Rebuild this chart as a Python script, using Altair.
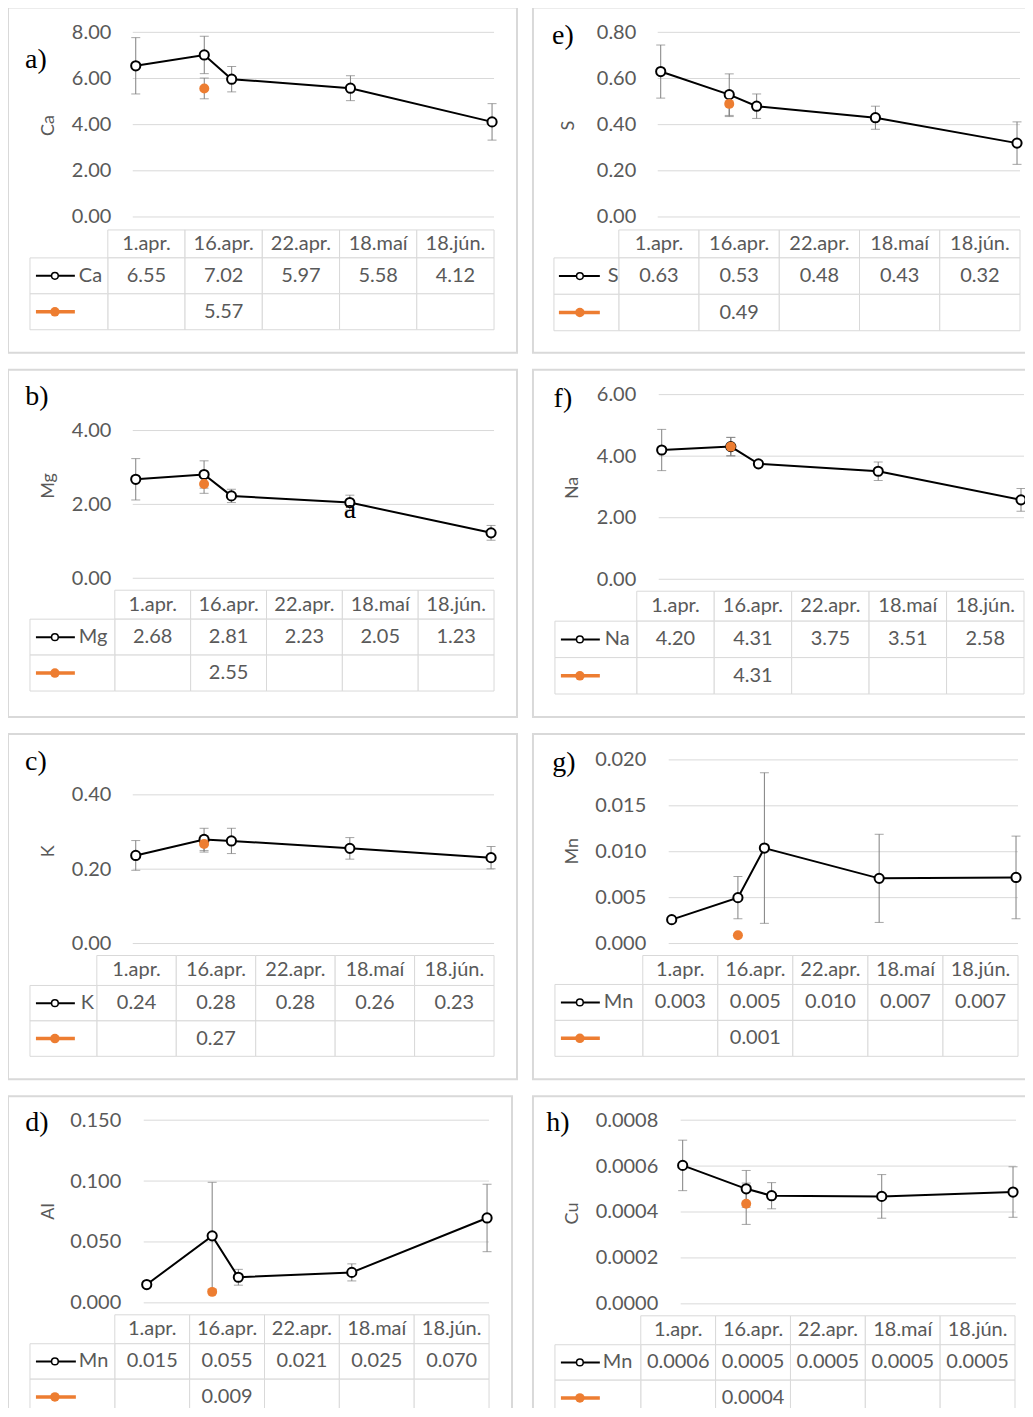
import altair as alt
import pandas as pd

# ---------------- data ----------------
dates = ["2020-04-01", "2020-04-16", "2020-04-22", "2020-05-18", "2020-06-18"]
date_labels = ["1.apr.", "16.apr.", "22.apr.", "18.maí", "18.jún."]

ca = [6.55, 7.02, 5.97, 5.58, 4.12]
ca_err = [1.22, 0.81, 0.55, 0.54, 0.79]
ca_extra = 5.57
ca_extra_err = 0.45
ca_ticks = [0, 2, 4, 6, 8]

s = [0.63, 0.53, 0.48, 0.43, 0.32]
s_err = [0.115, 0.09, 0.053, 0.05, 0.092]
s_extra = 0.49
s_extra_err = 0.055
s_ticks = [0, 0.2, 0.4, 0.6, 0.8]

mg = [2.68, 2.81, 2.23, 2.05, 1.23]
mg_err = [0.56, 0.37, 0.18, 0.2, 0.2]
mg_extra = 2.55
mg_extra_err = 0.25
mg_ticks = [0, 2, 4]

na = [4.20, 4.31, 3.75, 3.51, 2.58]
na_err = [0.67, 0.3, 0.1, 0.3, 0.37]
na_extra = 4.31
na_extra_err = 0.3
na_ticks = [0, 2, 4, 6]

k = [0.237, 0.280, 0.276, 0.256, 0.231]
k_err = [0.04, 0.03, 0.034, 0.029, 0.03]
k_extra = 0.268
k_extra_err = 0.022
k_ticks = [0, 0.2, 0.4]

mn = [0.0026, 0.0050, 0.0104, 0.0071, 0.0072]
mn_err = [0.0, 0.0023, 0.0082, 0.0048, 0.0045]
mn_extra = 0.0009
mn_extra_err = 0.0
mn_ticks = [0, 0.005, 0.01, 0.015, 0.02]

al = [0.015, 0.055, 0.021, 0.025, 0.0697]
al_err = [0.0, 0.044, 0.0065, 0.007, 0.0277]
al_extra = 0.009
al_extra_err = 0.0
al_ticks = [0, 0.05, 0.1, 0.15]

cu = [0.000603, 0.000501, 0.000471, 0.000468, 0.000487]
cu_err = [0.00011, 0.00008, 0.000057, 0.000095, 0.00011]
cu_extra = 0.000436
cu_extra_err = 0.00009
cu_ticks = [0, 0.0002, 0.0004, 0.0006, 0.0008]

# ---------------- styles ----------------
FONT = "Lato"
SERIF = "Liberation Serif"
TXT = "#595959"
GRID = "#d9d9d9"
ERR = "#7f7f7f"
ORANGE = "#ED7D31"
FS = 20

# per-panel layout (pixels relative to the panel box)
LAY = {
    "a": dict(lx=28, ly=53, y0=210, y1=25, lab=103, tx=41, ty=118, gl=125, gr=487, p0=128, p1=485,
              ht=223, hb=251, bb=323, tl=22, c1=100, cR=487, s0=28, s1=67, sc=47, lg=71),
    "e": dict(lx=30, ly=29, y0=210, y1=25, lab=103, tx=36, ty=118, gl=125, gr=488, p0=128, p1=485,
              ht=223, hb=251, bb=324, tl=21, c1=86, cR=488, s0=26, s1=67, sc=47, lg=75),
    "b": dict(lx=29, ly=27, y0=209, y1=61, lab=103, tx=41, ty=116, gl=125, gr=487, p0=128, p1=484,
              ht=221, hb=250, bb=322, tl=22, c1=107, cR=487, s0=28, s1=67, sc=47, lg=71),
    "f": dict(lx=30, ly=29, y0=210, y1=25, lab=103, tx=40, ty=118, gl=126, gr=492, p0=129, p1=489,
              ht=222, hb=252, bb=325, tl=22, c1=104, cR=492, s0=28, s1=67, sc=47, lg=72),
    "c": dict(lx=28, ly=28, y0=210, y1=61, lab=103, tx=41, ty=117, gl=125, gr=487, p0=128, p1=484,
              ht=222, hb=252, bb=323, tl=22, c1=89, cR=487, s0=28, s1=67, sc=47, lg=73),
    "g": dict(lx=31, ly=29, y0=210, y1=26, lab=113, tx=40, ty=117, gl=136, gr=486, p0=139, p1=484,
              ht=222, hb=251, bb=323, tl=22, c1=110, cR=486, s0=28, s1=67, sc=47, lg=71),
    "d": dict(lx=29, ly=27, y0=207, y1=24, lab=113, tx=41, ty=115, gl=136, gr=482, p0=139, p1=480,
              ht=219, hb=248, bb=319, tl=22, c1=107, cR=482, s0=28, s1=68, sc=47, lg=71),
    "h": dict(lx=25, ly=27, y0=208, y1=24, lab=125, tx=40, ty=117, gl=148, gr=484, p0=150, p1=481,
              ht=220, hb=249, bb=320, tl=22, c1=108, cR=483, s0=28, s1=67, sc=47, lg=70),
}


def to_dt(sdate):
    t = pd.Timestamp(sdate)
    return alt.DateTime(year=t.year, month=t.month, date=t.day, utc=True)


def panel(letter, axis_title, leg_name, vals, errs, extra, extra_err, ticks, tick_fmt, val_fmt,
          W, H, notes=()):
    L = LAY[letter]
    xs = alt.Scale(domain=[to_dt(dates[0]), to_dt(dates[-1])], range=[L["p0"], L["p1"]])
    ys = alt.Scale(domain=[ticks[0], ticks[-1]], range=[L["y0"], L["y1"]], nice=False, zero=False)

    main = pd.DataFrame({
        "date": dates, "v": vals,
        "lo": [v - e for v, e in zip(vals, errs)],
        "hi": [v + e for v, e in zip(vals, errs)],
    })
    ext = pd.DataFrame({"date": [dates[1]], "v": [extra],
                        "lo": [extra - extra_err], "hi": [extra + extra_err]})

    X = alt.X("date:T", scale=xs, axis=None)

    def Y(f):
        return alt.Y(f"{f}:Q", scale=ys, axis=None)

    layers = []
    grid = alt.Chart(pd.DataFrame({"t": ticks})).mark_rule(color=GRID, strokeWidth=1).encode(
        y=alt.Y("t:Q", scale=ys, axis=alt.Axis(
            values=ticks, format=tick_fmt, grid=False, domain=False, ticks=False, tickSize=0,
            labelPadding=0, offset=-L["lab"], labelFont=FONT, labelFontSize=FS, labelColor=TXT,
            labelOverlap=False,
            title=axis_title, titleFont=FONT, titleFontSize=18, titleColor=TXT,
            titleFontWeight="normal", titleAngle=270, titleAlign="center", titleBaseline="middle",
            titleX=L["tx"] - L["lab"], titleY=L["ty"])),
        x=alt.value(L["gl"]), x2=alt.value(L["gr"]))
    layers.append(grid)

    def errbars(df):
        return [
            alt.Chart(df).mark_rule(color=ERR, strokeWidth=1).encode(x=X, y=Y("lo"), y2="hi:Q"),
            alt.Chart(df).mark_tick(color=ERR, thickness=1, size=9, orient="horizontal").encode(x=X, y=Y("lo")),
            alt.Chart(df).mark_tick(color=ERR, thickness=1, size=9, orient="horizontal").encode(x=X, y=Y("hi")),
        ]

    layers += errbars(main)
    if extra_err > 0:
        layers += errbars(ext)
    layers.append(alt.Chart(main).mark_line(color="black", strokeWidth=2).encode(x=X, y=Y("v")))
    layers.append(alt.Chart(main).mark_point(shape="circle", filled=True, fill="white", stroke="black",
                                             strokeWidth=2, size=85, opacity=1, fillOpacity=1,
                                             strokeOpacity=1).encode(x=X, y=Y("v")))
    layers.append(alt.Chart(ext).mark_circle(color=ORANGE, size=100, opacity=1).encode(x=X, y=Y("v")))

    for idx, txt in notes:
        ndf = pd.DataFrame({"date": [dates[idx]], "v": [vals[idx]], "t": [txt]})
        layers.append(alt.Chart(ndf).mark_text(font=SERIF, fontSize=28, baseline="alphabetic", dy=15,
                                               color="black").encode(x=X, y=Y("v"), text="t:N"))

    # ---------- data table ----------
    hx = alt.Scale(type="band", domain=date_labels, range=[L["c1"], L["cR"]], paddingInner=0, paddingOuter=0)
    hy = alt.Scale(type="band", domain=["hdr"], range=[L["ht"], L["hb"]], paddingInner=0, paddingOuter=0)
    rows = [leg_name, "extra"]
    by = alt.Scale(type="band", domain=rows, range=[L["hb"], L["bb"]], paddingInner=0, paddingOuter=0)

    def CX(center=False):
        if center:
            return alt.X("col:N", scale=hx, axis=None, bandPosition=0.5)
        return alt.X("col:N", scale=hx, axis=None)

    def RY(scale, center=False):
        if center:
            return alt.Y("row:N", scale=scale, axis=None, bandPosition=0.5)
        return alt.Y("row:N", scale=scale, axis=None)

    hdr = pd.DataFrame({"col": date_labels, "row": ["hdr"] * len(date_labels)})
    layers.append(alt.Chart(hdr).mark_rect(fill="white", stroke=GRID, strokeWidth=1).encode(
        x=CX(), y=RY(hy)))
    layers.append(alt.Chart(hdr).mark_text(font=FONT, fontSize=FS, color=TXT, baseline="middle",
                                           align="center").encode(x=CX(True), y=RY(hy, True), text="col:N"))

    cells = pd.DataFrame({"col": date_labels * 2,
                          "row": [rows[0]] * len(date_labels) + [rows[1]] * len(date_labels)})
    layers.append(alt.Chart(cells).mark_rect(fill="white", stroke=GRID, strokeWidth=1).encode(
        x=CX(), y=RY(by)))
    legcells = pd.DataFrame({"row": rows})
    layers.append(alt.Chart(legcells).mark_rect(fill="white", stroke=GRID, strokeWidth=1).encode(
        x=alt.value(L["tl"]), x2=alt.value(L["c1"]), y=RY(by)))

    body = pd.DataFrame({"col": date_labels + [date_labels[1]],
                         "row": [rows[0]] * len(date_labels) + [rows[1]],
                         "v": list(vals) + [extra]})
    layers.append(alt.Chart(body).mark_text(font=FONT, fontSize=FS, color=TXT, baseline="middle",
                                            align="center").encode(
        x=CX(True), y=RY(by, True), text=alt.Text("v:Q", format=val_fmt)))

    blk = pd.DataFrame({"row": [rows[0]]})
    org = pd.DataFrame({"row": [rows[1]]})
    layers.append(alt.Chart(blk).mark_rule(color="black", strokeWidth=2).encode(
        x=alt.value(L["s0"]), x2=alt.value(L["s1"]), y=RY(by, True)))
    layers.append(alt.Chart(blk).mark_point(shape="circle", filled=True, fill="white", stroke="black",
                                            strokeWidth=1.5, size=45, opacity=1, fillOpacity=1).encode(
        x=alt.value(L["sc"]), y=RY(by, True)))
    layers.append(alt.Chart(blk).mark_text(font=FONT, fontSize=FS, color=TXT, baseline="middle",
                                           align="left").encode(
        x=alt.value(L["lg"]), y=RY(by, True), text="row:N"))
    layers.append(alt.Chart(org).mark_rule(color=ORANGE, strokeWidth=3.5).encode(
        x=alt.value(L["s0"]), x2=alt.value(L["s1"]), y=RY(by, True)))
    layers.append(alt.Chart(org).mark_circle(color=ORANGE, size=90, opacity=1).encode(
        x=alt.value(L["sc"]), y=RY(by, True)))

    # panel letter
    lab = pd.DataFrame({"t": [letter + ")"]})
    layers.append(alt.Chart(lab).mark_text(font=SERIF, fontSize=28, color="black", align="center",
                                           baseline="middle").encode(
        x=alt.value(L["lx"]), y=alt.value(L["ly"]), text="t:N"))

    return alt.layer(*layers).resolve_scale(x="independent", y="independent").properties(width=W, height=H)


pa = panel("a", "Ca", "Ca", ca, ca_err, ca_extra, ca_extra_err, ca_ticks, ".2f", ".2f", 510, 346)
pe = panel("e", "S", "S", s, s_err, s_extra, s_extra_err, s_ticks, ".2f", ".2f", 510, 346)
pb = panel("b", "Mg", "Mg", mg, mg_err, mg_extra, mg_extra_err, mg_ticks, ".2f", ".2f", 510, 348,
           notes=[(3, "a")])
pf = panel("f", "Na", "Na", na, na_err, na_extra, na_extra_err, na_ticks, ".2f", ".2f", 510, 348)
pc = panel("c", "K", "K", k, k_err, k_extra, k_extra_err, k_ticks, ".2f", ".2f", 510, 346)
pg = panel("g", "Mn", "Mn", mn, mn_err, mn_extra, mn_extra_err, mn_ticks, ".3f", ".3f", 510, 346)
pd_ = panel("d", "Al", "Mn", al, al_err, al_extra, al_extra_err, al_ticks, ".3f", ".3f", 505, 330)
ph = panel("h", "Cu", "Mn", cu, cu_err, cu_extra, cu_extra_err, cu_ticks, ".4f", ".4f", 510, 330)

row1 = alt.hconcat(pa, pe, spacing=14)
row2 = alt.hconcat(pb, pf, spacing=14)
row3 = alt.hconcat(pc, pg, spacing=14)
row4 = alt.hconcat(pd_, ph, spacing=19)

chart = alt.vconcat(
    row1, row2, row3, row4, spacing=15,
    padding={"left": -1, "top": -3, "right": -18, "bottom": -20},
).configure_view(stroke=GRID, strokeWidth=2, fill="white")

chart.save("out.html", embed_options={"renderer": "svg", "actions": False})
